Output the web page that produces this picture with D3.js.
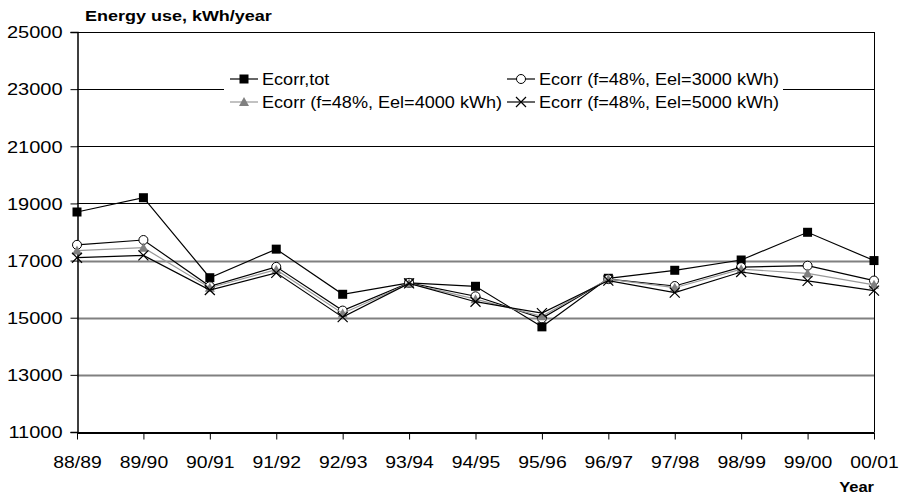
<!DOCTYPE html>
<html>
<head>
<meta charset="utf-8">
<script src="https://cdn.jsdelivr.net/npm/d3@7"></script>
<style>
  html, body { margin: 0; padding: 0; background: #fff; }
  svg { display: block; font-family: "Liberation Sans", Arial, sans-serif; }
</style>
</head>
<body>
<svg id="chart" width="901" height="497"></svg>
<script>
const categories = ["88/89","89/90","90/91","91/92","92/93","93/94","94/95","95/96","96/97","97/98","98/99","99/00","00/01"];
const ecorrTot  = [18700,19200,16400,17400,15820,16220,16100,14680,16380,16660,17020,17990,17000];
const ecorr3000 = [17550,17720,16100,16780,15250,16220,15750,14980,16350,16110,16770,16820,16300];
const ecorr4000 = [17350,17450,16050,16680,15150,16200,15650,15050,16350,16050,16700,16550,16150];
const ecorr5000 = [17100,17180,15970,16570,15020,16200,15560,15160,16300,15880,16600,16290,15950];
const yTicks = [11000,13000,15000,17000,19000,21000,23000,25000];
const seriesNames = ["Ecorr,tot","Ecorr (f=48%, Eel=3000 kWh)","Ecorr (f=48%, Eel=4000 kWh)","Ecorr (f=48%, Eel=5000 kWh)"];
const titleText = "Energy use, kWh/year";
const xTitleText = "Year";

const series = [
  {name: seriesNames[0], values: ecorrTot,  color: "#000", marker: "square"},
  {name: seriesNames[1], values: ecorr3000, color: "#000", marker: "circle"},
  {name: seriesNames[2], values: ecorr4000, color: "#999", marker: "triangle"},
  {name: seriesNames[3], values: ecorr5000, color: "#000", marker: "cross"}
];

const svg = d3.select("#chart");
const pLeft = 77, pRight = 874, pTop = 32, pBottom = 432;
const x = d3.scalePoint().domain(categories).range([pLeft, pRight]);
const y = d3.scaleLinear().domain([11000, 25000]).range([pBottom, pTop]);

// gridlines
const grid = svg.append("g");
yTicks.filter(t => t > 11000 && t < 25000).forEach(t => {
  grid.append("line")
    .attr("x1", pLeft).attr("x2", pRight)
    .attr("y1", Math.round(y(t)) + 0.5).attr("y2", Math.round(y(t)) + 0.5)
    .attr("stroke", t >= 19000 ? "#000" : "#808080")
    .attr("stroke-width", t >= 19000 ? 1 : 2);
});
// plot border top & right
svg.append("line").attr("x1", pLeft).attr("x2", pRight).attr("y1", pTop + 0.5).attr("y2", pTop + 0.5).attr("stroke", "#000");
svg.append("line").attr("x1", pRight + 0.5).attr("x2", pRight + 0.5).attr("y1", pTop).attr("y2", pBottom).attr("stroke", "#000");

// axes
const ySx = 1.25;
const yAxis = d3.axisLeft(y).tickValues(yTicks).tickSize(7).tickPadding(8).tickFormat(d3.format("d"));
const gy = svg.append("g").attr("transform", `translate(${pLeft + 0.5},0)`).call(yAxis);
gy.select(".domain").attr("stroke", "#000").attr("stroke-width", 1.5);
gy.selectAll(".tick line").attr("stroke", "#000");
gy.selectAll(".tick text").attr("font-size", 16).attr("fill", "#000")
  .attr("font-family", "Liberation Sans, Arial, sans-serif").attr("dy", "0.36em")
  .attr("x", -15 / ySx).attr("transform", `scale(${ySx},1)`);

const xSx = 1.14;
const xAxis = d3.axisBottom(x).tickSize(7).tickPadding(16).tickSizeOuter(0);
const gx = svg.append("g").attr("transform", `translate(0,${pBottom + 0.5})`).call(xAxis);
gx.select(".domain").attr("stroke", "#000").attr("stroke-width", 2);
gx.selectAll(".tick line").attr("stroke", "#000");
gx.selectAll(".tick text").attr("font-size", 17).attr("fill", "#000")
  .attr("font-family", "Liberation Sans, Arial, sans-serif")
  .attr("transform", `scale(${xSx},1)`);

// titles
svg.append("text").attr("transform", "translate(85,21) scale(1.2,1)")
  .attr("font-size", 15).attr("font-weight", "bold").text(titleText);
svg.append("text").attr("transform", `translate(${pRight},492) scale(1.1,1)`).attr("text-anchor", "end")
  .attr("font-size", 15).attr("font-weight", "bold").text(xTitleText);

// marker drawing
function drawMarker(g, type, cx, cy, color) {
  if (type === "square") {
    g.append("rect").attr("x", cx - 4.5).attr("y", cy - 4.5).attr("width", 9).attr("height", 9).attr("fill", "#000");
  } else if (type === "circle") {
    g.append("circle").attr("cx", cx).attr("cy", cy).attr("r", 4.5).attr("fill", "#fff").attr("stroke", "#000").attr("stroke-width", 1);
  } else if (type === "triangle") {
    g.append("path").attr("d", `M${cx},${cy - 5}L${cx + 5},${cy + 4}L${cx - 5},${cy + 4}Z`).attr("fill", "#808080");
  } else if (type === "cross") {
    g.append("path").attr("d", `M${cx - 5},${cy - 5}L${cx + 5},${cy + 5}M${cx - 5},${cy + 5}L${cx + 5},${cy - 5}`)
      .attr("stroke", "#000").attr("stroke-width", 1.2).attr("fill", "none");
  }
}

const line = d3.line().x((d, i) => x(categories[i])).y(d => y(d));
series.forEach(s => {
  const g = svg.append("g");
  g.append("path").attr("d", line(s.values)).attr("fill", "none").attr("stroke", s.color).attr("stroke-width", 1.2);
  s.values.forEach((v, i) => drawMarker(g, s.marker, x(categories[i]), y(v), s.color));
});

// legend
const leg = svg.append("g");
leg.append("rect").attr("x", 224).attr("y", 64).attr("width", 559).attr("height", 47).attr("fill", "#fff");
const legPos = [
  {lx: 230, ly: 79},
  {lx: 507, ly: 79},
  {lx: 230, ly: 102},
  {lx: 507, ly: 102}
];
series.forEach((s, i) => {
  const p = legPos[i];
  leg.append("line").attr("x1", p.lx).attr("x2", p.lx + 28).attr("y1", p.ly).attr("y2", p.ly)
    .attr("stroke", s.color).attr("stroke-width", 1.2);
  drawMarker(leg, s.marker, p.lx + 14, p.ly, s.color);
  leg.append("text").attr("transform", `translate(${p.lx + 32},${p.ly}) scale(1.13,1)`).attr("dy", "0.35em")
    .attr("font-size", 16).text(s.name);
});
</script>
</body>
</html>
